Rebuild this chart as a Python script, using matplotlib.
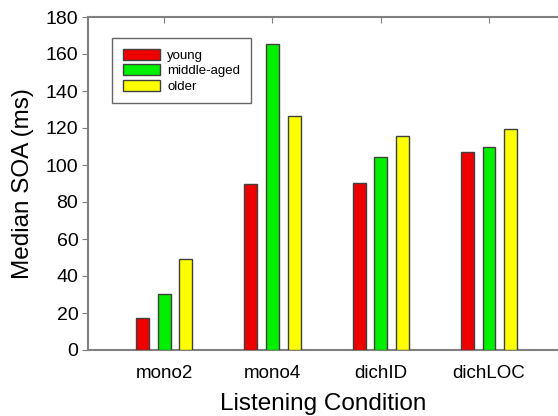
import matplotlib
matplotlib.use("Agg")
import matplotlib.pyplot as plt
import numpy as np

plt.rcParams['font.family'] = ['Liberation Sans', 'DejaVu Sans']

categories = ["mono2", "mono4", "dichID", "dichLOC"]
groups = ["young", "middle-aged", "older"]
young = [17.5, 89.5, 90.3, 107.0]
middle = [30.3, 165.3, 104.2, 109.6]
older = [49.0, 126.5, 115.6, 119.2]
colors = ["#EE0000", "#00F000", "#FFFF00"]
yticks = [0, 20, 40, 60, 80, 100, 120, 140, 160, 180]

fig = plt.figure(figsize=(5.58, 4.16), dpi=100)
ax = fig.add_axes([88/558, 66/416, 1 - 88/558, (350-17)/416])

x = np.arange(1, len(categories) + 1)
w = 0.12
off = 0.2
for i, (vals, lab, c) in enumerate(zip([young, middle, older], groups, colors)):
    ax.bar(x + (i - 1) * off, vals, width=w, color=c, edgecolor="#404040",
           linewidth=1.0, label=lab, zorder=3)

ax.set_xlim(0.298, 4.637)
ax.set_ylim(0, 180)
ax.set_yticks(yticks)
ax.set_xticks(x)
ax.set_xticklabels(categories)
ax.tick_params(axis='x', which='both', bottom=False, top=True, direction='in',
               length=4, color="#808080", labelsize=13.5, pad=11)
ax.tick_params(axis='y', direction='out', length=4, color="#808080", labelsize=14, pad=3)
for s in ['left', 'bottom', 'top']:
    ax.spines[s].set_color("#808080")
    ax.spines[s].set_linewidth(1.5)
ax.spines['right'].set_visible(False)

ax.set_ylabel("Median SOA (ms)", fontsize=17.5, labelpad=8)
ax.set_xlabel("Listening Condition", fontsize=17.5, labelpad=8)

leg = ax.legend(loc='upper left', bbox_to_anchor=(24/470, 1 - 21/333), fontsize=9.5,
                frameon=True, fancybox=False, edgecolor="#404040",
                handlelength=2.8, handleheight=0.9, borderpad=0.8, labelspacing=0.2,
                handletextpad=0.6, borderaxespad=0)
leg.get_frame().set_linewidth(1.0)

fig.savefig("out.png", dpi=100)
